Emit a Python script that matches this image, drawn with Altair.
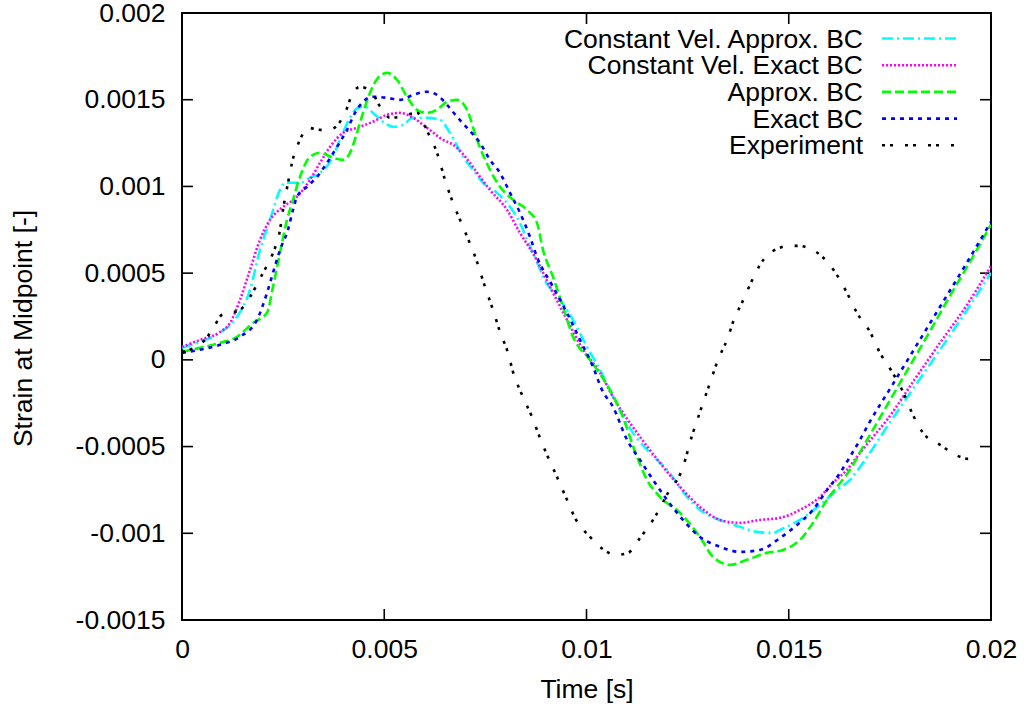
import altair as alt
import pandas as pd

# ---------------- data (time [s], strain [-]) ----------------
cva_t = [0.0, 0.445e-3, 0.939e-3, 1.360e-3, 1.681e-3, 1.928e-3, 2.176e-3, 2.423e-3, 2.546e-3, 2.917e-3,
         3.164e-3, 3.412e-3, 3.659e-3, 3.906e-3, 4.153e-3, 4.351e-3, 4.524e-3, 4.722e-3, 4.969e-3, 5.216e-3,
         5.464e-3, 5.711e-3, 6.057e-3, 6.378e-3, 6.625e-3, 6.947e-3, 7.194e-3, 7.441e-3, 7.787e-3, 8.109e-3,
         8.356e-3, 8.529e-3, 8.776e-3, 8.925e-3, 9.345e-3, 9.666e-3, 10.012e-3, 10.334e-3, 10.655e-3, 11.150e-3,
         11.570e-3, 11.990e-3, 12.485e-3, 12.806e-3, 13.301e-3, 13.795e-3, 14.215e-3, 14.611e-3, 14.784e-3, 15.278e-3,
         15.773e-3, 16.193e-3, 16.514e-3, 16.836e-3, 17.429e-3, 18.072e-3, 18.739e-3, 19.407e-3, 20.0e-3]
cva_y = [0.069e-3, 0.104e-3, 0.156e-3, 0.248e-3, 0.404e-3, 0.634e-3, 0.807e-3, 0.980e-3, 1.021e-3, 1.021e-3,
         1.050e-3, 1.078e-3, 1.142e-3, 1.269e-3, 1.396e-3, 1.453e-3, 1.459e-3, 1.424e-3, 1.373e-3, 1.344e-3,
         1.355e-3, 1.396e-3, 1.396e-3, 1.384e-3, 1.309e-3, 1.171e-3, 1.096e-3, 1.021e-3, 0.963e-3, 0.882e-3,
         0.790e-3, 0.692e-3, 0.565e-3, 0.479e-3, 0.346e-3, 0.231e-3, 0.075e-3, -0.058e-3, -0.213e-3, -0.421e-3,
         -0.536e-3, -0.634e-3, -0.790e-3, -0.865e-3, -0.923e-3, -0.963e-3, -0.992e-3, -0.998e-3, -0.980e-3, -0.923e-3,
         -0.836e-3, -0.750e-3, -0.692e-3, -0.594e-3, -0.386e-3, -0.167e-3, 0.058e-3, 0.288e-3, 0.502e-3]

cve_t = [0.0, 0.445e-3, 0.939e-3, 1.187e-3, 1.434e-3, 1.681e-3, 1.928e-3, 2.176e-3, 2.497e-3, 2.843e-3,
         3.164e-3, 3.412e-3, 3.659e-3, 3.980e-3, 4.326e-3, 4.722e-3, 5.068e-3, 5.389e-3, 5.711e-3, 6.057e-3,
         6.378e-3, 6.799e-3, 7.120e-3, 7.367e-3, 7.614e-3, 8.035e-3, 8.356e-3, 8.727e-3, 9.098e-3, 9.518e-3,
         9.913e-3, 10.334e-3, 10.655e-3, 11.323e-3, 11.817e-3, 12.311e-3, 12.806e-3, 13.301e-3, 13.795e-3, 14.289e-3,
         14.784e-3, 15.278e-3, 15.773e-3, 16.094e-3, 16.440e-3, 16.762e-3, 17.083e-3, 17.429e-3, 18.072e-3, 18.739e-3,
         19.407e-3, 20.0e-3]
cve_y = [0.075e-3, 0.115e-3, 0.161e-3, 0.213e-3, 0.346e-3, 0.519e-3, 0.692e-3, 0.807e-3, 0.882e-3, 0.940e-3,
         1.038e-3, 1.136e-3, 1.228e-3, 1.309e-3, 1.338e-3, 1.373e-3, 1.413e-3, 1.424e-3, 1.396e-3, 1.338e-3,
         1.280e-3, 1.223e-3, 1.136e-3, 1.055e-3, 0.980e-3, 0.865e-3, 0.732e-3, 0.594e-3, 0.421e-3, 0.231e-3,
         0.058e-3, -0.075e-3, -0.213e-3, -0.444e-3, -0.594e-3, -0.732e-3, -0.848e-3, -0.923e-3, -0.940e-3, -0.923e-3,
         -0.911e-3, -0.865e-3, -0.790e-3, -0.709e-3, -0.634e-3, -0.536e-3, -0.444e-3, -0.346e-3, -0.127e-3, 0.098e-3,
         0.317e-3, 0.542e-3]

apx_t = [0.0, 0.445e-3, 0.939e-3, 1.360e-3, 1.755e-3, 2.101e-3, 2.250e-3, 2.423e-3, 2.596e-3, 2.744e-3,
         2.917e-3, 3.164e-3, 3.412e-3, 3.733e-3, 3.980e-3, 4.153e-3, 4.326e-3, 4.475e-3, 4.648e-3, 4.846e-3,
         5.068e-3, 5.315e-3, 5.562e-3, 5.810e-3, 6.057e-3, 6.304e-3, 6.551e-3, 6.799e-3, 7.046e-3, 7.293e-3,
         7.614e-3, 7.862e-3, 8.183e-3, 8.529e-3, 8.776e-3, 8.925e-3, 9.172e-3, 9.419e-3, 9.666e-3, 10.087e-3,
         10.581e-3, 10.828e-3, 11.249e-3, 11.496e-3, 11.817e-3, 12.311e-3, 12.806e-3, 13.127e-3, 13.548e-3, 13.968e-3,
         14.462e-3, 14.858e-3, 15.278e-3, 15.600e-3, 15.946e-3, 16.193e-3, 16.514e-3, 16.836e-3, 17.182e-3, 17.750e-3,
         18.368e-3, 18.987e-3, 19.481e-3, 20.0e-3]
apx_y = [0.046e-3, 0.069e-3, 0.098e-3, 0.133e-3, 0.213e-3, 0.271e-3, 0.421e-3, 0.617e-3, 0.807e-3, 0.923e-3,
         1.055e-3, 1.171e-3, 1.194e-3, 1.165e-3, 1.153e-3, 1.194e-3, 1.309e-3, 1.424e-3, 1.540e-3, 1.626e-3,
         1.655e-3, 1.615e-3, 1.517e-3, 1.442e-3, 1.424e-3, 1.442e-3, 1.488e-3, 1.499e-3, 1.442e-3, 1.269e-3,
         1.096e-3, 0.998e-3, 0.923e-3, 0.865e-3, 0.790e-3, 0.634e-3, 0.479e-3, 0.306e-3, 0.133e-3, 0.0,
         -0.173e-3, -0.288e-3, -0.559e-3, -0.692e-3, -0.790e-3, -0.882e-3, -1.021e-3, -1.136e-3, -1.182e-3, -1.153e-3,
         -1.113e-3, -1.096e-3, -1.038e-3, -0.940e-3, -0.807e-3, -0.732e-3, -0.634e-3, -0.502e-3, -0.363e-3, -0.133e-3,
         0.115e-3, 0.369e-3, 0.565e-3, 0.779e-3]

exa_t = [0.0, 0.445e-3, 0.939e-3, 1.434e-3, 1.854e-3, 2.101e-3, 2.250e-3, 2.423e-3, 2.621e-3, 2.744e-3,
         2.843e-3, 3.090e-3, 3.337e-3, 3.585e-3, 3.832e-3, 4.079e-3, 4.277e-3, 4.475e-3, 4.722e-3, 5.068e-3,
         5.389e-3, 5.711e-3, 6.057e-3, 6.304e-3, 6.551e-3, 6.799e-3, 7.046e-3, 7.367e-3, 7.614e-3, 7.862e-3,
         8.109e-3, 8.356e-3, 8.603e-3, 8.776e-3, 9.172e-3, 9.518e-3, 9.839e-3, 10.161e-3, 10.383e-3, 10.655e-3,
         11.001e-3, 11.323e-3, 11.644e-3, 11.990e-3, 12.385e-3, 12.806e-3, 13.301e-3, 13.795e-3, 14.289e-3, 14.784e-3,
         15.204e-3, 15.600e-3, 15.946e-3, 16.267e-3, 16.514e-3, 16.762e-3, 16.960e-3, 17.503e-3, 18.121e-3, 18.739e-3,
         19.357e-3, 20.0e-3]
exa_y = [0.040e-3, 0.058e-3, 0.087e-3, 0.133e-3, 0.231e-3, 0.386e-3, 0.502e-3, 0.634e-3, 0.750e-3, 0.865e-3,
         0.940e-3, 0.998e-3, 1.055e-3, 1.136e-3, 1.228e-3, 1.326e-3, 1.424e-3, 1.488e-3, 1.517e-3, 1.511e-3,
         1.499e-3, 1.528e-3, 1.546e-3, 1.528e-3, 1.471e-3, 1.401e-3, 1.338e-3, 1.251e-3, 1.153e-3, 1.078e-3,
         0.963e-3, 0.848e-3, 0.709e-3, 0.594e-3, 0.421e-3, 0.271e-3, 0.115e-3, -0.040e-3, -0.173e-3, -0.271e-3,
         -0.461e-3, -0.577e-3, -0.692e-3, -0.807e-3, -0.923e-3, -1.021e-3, -1.078e-3, -1.107e-3, -1.096e-3, -1.027e-3,
         -0.952e-3, -0.865e-3, -0.750e-3, -0.652e-3, -0.559e-3, -0.461e-3, -0.375e-3, -0.167e-3, 0.069e-3, 0.306e-3,
         0.542e-3, 0.796e-3]

exp_t = [0.0, 0.569e-3, 0.816e-3, 0.989e-3, 1.434e-3, 1.681e-3, 2.003e-3, 2.250e-3, 2.423e-3, 2.497e-3,
         2.621e-3, 2.719e-3, 2.917e-3, 3.115e-3, 3.412e-3, 3.708e-3, 4.030e-3, 4.227e-3, 4.400e-3, 4.697e-3,
         4.944e-3, 5.142e-3, 5.389e-3, 5.810e-3, 6.082e-3, 6.304e-3, 6.502e-3, 6.700e-3, 6.947e-3, 7.293e-3,
         7.491e-3, 7.689e-3, 7.862e-3, 8.059e-3, 8.183e-3, 8.405e-3, 8.653e-3, 8.850e-3, 9.024e-3, 9.271e-3,
         9.518e-3, 9.716e-3, 10.087e-3, 10.507e-3, 10.705e-3, 11.026e-3, 11.323e-3, 11.693e-3, 12.015e-3, 12.361e-3,
         12.608e-3, 12.806e-3, 13.053e-3, 13.251e-3, 13.474e-3, 13.671e-3, 13.844e-3, 14.042e-3, 14.289e-3, 14.710e-3,
         15.031e-3, 15.278e-3, 15.476e-3, 15.773e-3, 16.143e-3, 16.440e-3, 16.687e-3, 17.009e-3, 17.256e-3, 17.553e-3,
         17.825e-3, 18.047e-3, 18.319e-3, 18.739e-3, 19.234e-3, 19.432e-3, 19.728e-3]
exp_y = [0.046e-3, 0.115e-3, 0.202e-3, 0.260e-3, 0.288e-3, 0.363e-3, 0.502e-3, 0.617e-3, 0.750e-3, 0.865e-3,
         1.021e-3, 1.136e-3, 1.269e-3, 1.338e-3, 1.326e-3, 1.332e-3, 1.424e-3, 1.540e-3, 1.574e-3, 1.540e-3,
         1.442e-3, 1.396e-3, 1.401e-3, 1.424e-3, 1.309e-3, 1.194e-3, 1.038e-3, 0.905e-3, 0.767e-3, 0.565e-3,
         0.421e-3, 0.288e-3, 0.161e-3, 0.040e-3, -0.069e-3, -0.202e-3, -0.329e-3, -0.450e-3, -0.548e-3, -0.675e-3,
         -0.807e-3, -0.911e-3, -1.021e-3, -1.107e-3, -1.125e-3, -1.113e-3, -1.027e-3, -0.905e-3, -0.767e-3, -0.634e-3,
         -0.438e-3, -0.300e-3, -0.133e-3, 0.0, 0.115e-3, 0.248e-3, 0.329e-3, 0.433e-3, 0.548e-3, 0.640e-3,
         0.657e-3, 0.657e-3, 0.646e-3, 0.606e-3, 0.507e-3, 0.386e-3, 0.271e-3, 0.161e-3, 0.040e-3, -0.069e-3,
         -0.185e-3, -0.306e-3, -0.421e-3, -0.490e-3, -0.559e-3, -0.571e-3, -0.565e-3]

series_names = ["Constant Vel. Approx. BC", "Constant Vel. Exact BC", "Approx. BC", "Exact BC", "Experiment"]
x_ticks = [0, 0.005, 0.01, 0.015, 0.02]
y_ticks = [-0.0015, -0.001, -0.0005, 0, 0.0005, 0.001, 0.0015, 0.002]

# ---------------- styling ----------------
W, H = 809, 607
FONT = "Liberation Sans"
FS = 26.5
LW = 2.6
colors = ["#00ffff", "#ff00ff", "#00ff00", "#0000ff", "#000000"]
dashes = [[11, 4, 2, 4], [2, 2], [9, 4], [4, 5], [3, 5, 3, 12]]
series_data = [(cva_t, cva_y), (cve_t, cve_y), (apx_t, apx_y), (exa_t, exa_y), (exp_t, exp_y)]

xscale = alt.Scale(domain=[0, 0.02], nice=False, zero=False)
yscale = alt.Scale(domain=[-0.0015, 0.002], nice=False, zero=False)

x_axis = alt.Axis(values=x_ticks, title="Time [s]", labelExpr="'' + datum.value",
                  titleX=W / 2, titleY=77, titleBaseline="alphabetic", titleAlign="center",
                  labelPadding=16, labelOverlap=False, labelFlush=False, orient="bottom")
y_axis = alt.Axis(values=y_ticks, title="Strain at Midpoint [-]", labelExpr="'' + datum.value",
                  titleAngle=270, titleX=-151, titleY=315, titleBaseline="alphabetic", titleAlign="center",
                  labelPadding=17, labelOverlap=False, labelFlush=False, orient="left")


def X(field):
    return alt.X(field, scale=xscale, axis=x_axis)


def Y(field):
    return alt.Y(field, scale=yscale, axis=y_axis)


layers = []

# inward tick marks on all four sides
xt = pd.DataFrame({"v": x_ticks})
yt = pd.DataFrame({"v": y_ticks})
tick_style = dict(color="black", strokeWidth=1.6)
layers.append(alt.Chart(xt).mark_rule(**tick_style).encode(
    x=X("v:Q"), y=alt.value(H), y2=alt.value(H - 11)))
layers.append(alt.Chart(xt).mark_rule(**tick_style).encode(
    x=X("v:Q"), y=alt.value(0), y2=alt.value(11)))
layers.append(alt.Chart(yt).mark_rule(**tick_style).encode(
    y=Y("v:Q"), x=alt.value(0), x2=alt.value(11)))
layers.append(alt.Chart(yt).mark_rule(**tick_style).encode(
    y=Y("v:Q"), x=alt.value(W - 11), x2=alt.value(W)))

# data lines
for (t, y), col, dash in zip(series_data, colors, dashes):
    df = pd.DataFrame({"v": t, "strain": y})
    layers.append(alt.Chart(df).mark_line(color=col, strokeDash=dash, strokeWidth=LW, clip=True,
                                          interpolate="monotone", strokeCap="butt").encode(
        x=X("v:Q"), y=Y("strain:Q")))

# gnuplot-style key (labels right-aligned, samples on the right)
for i, (name, col, dash) in enumerate(zip(series_names, colors, dashes)):
    ly = 25.5 + 26.7 * i
    ldf = pd.DataFrame({"label": [name]})
    layers.append(alt.Chart(ldf).mark_text(align="right", baseline="middle", font=FONT, fontSize=FS,
                                           color="black", dy=1).encode(
        x=alt.value(681), y=alt.value(ly), text="label:N"))
    layers.append(alt.Chart(ldf).mark_rule(color=col, strokeDash=dash, strokeWidth=LW, strokeCap="butt").encode(
        x=alt.value(700), x2=alt.value(775), y=alt.value(ly)))

chart = alt.layer(*layers).properties(
    width=W, height=H,
    autosize=alt.AutoSizeParams(type="none"),
    padding={"left": 182, "top": 13, "right": 35, "bottom": 86},
    background="white",
).configure_view(stroke="black", strokeWidth=2).configure_axis(
    domain=False, ticks=False, tickSize=0, grid=False,
    labelFont=FONT, labelFontSize=FS, labelColor="black",
    titleFont=FONT, titleFontSize=FS, titleFontWeight="normal", titleColor="black",
)

chart.save("out.html", embed_options={"renderer": "svg", "actions": False})
